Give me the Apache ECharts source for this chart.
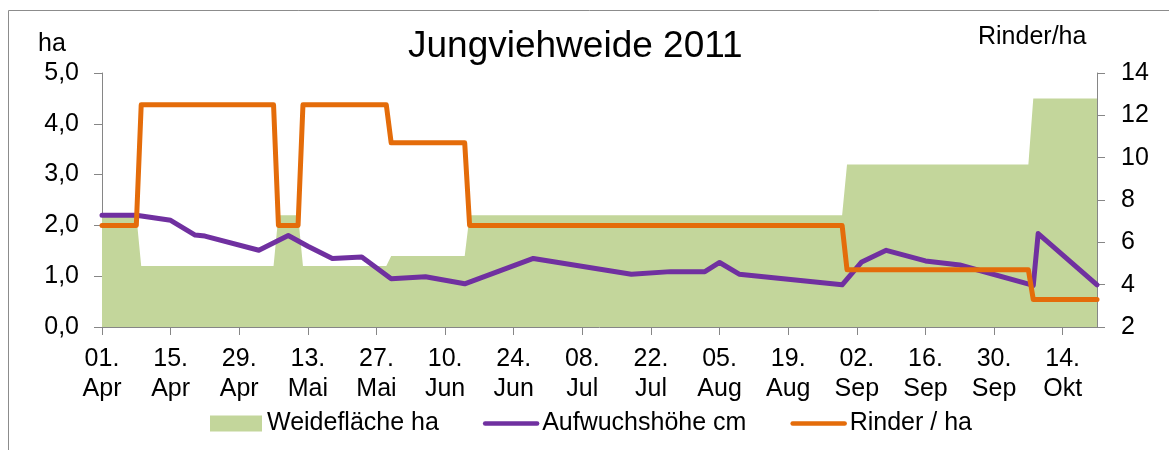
<!DOCTYPE html>
<html lang="de">
<head>
<meta charset="UTF-8">
<title>Jungviehweide 2011</title>
<style>
    html, body { margin: 0; padding: 0; background: #fff; }
    #main { width: 1169px; height: 450px; }
</style>
</head>
<body>
<div id="main"></div>
<script src="https://cdn.jsdelivr.net/npm/echarts@6/dist/echarts.min.js"></script>
<script>
    // x-Werte = Tage ab 01.04.2011
    var stufenTage = [0, 7, 8, 35, 36, 40, 41, 58, 59, 74, 75, 151, 152, 189, 190, 203];
    var weideflaeche = [2.2, 2.2, 1.2, 1.2, 2.2, 2.2, 1.2, 1.2, 1.4, 1.4, 2.2, 2.2, 3.2, 3.2, 4.5, 4.5];
    var rinderProHa = [6.8, 6.8, 12.5, 12.5, 6.8, 6.8, 12.5, 12.5, 10.7, 10.7, 6.8, 6.8, 4.7, 4.7, 3.3, 3.3];

    var aufwuchsTage = [0, 7, 14, 19, 21, 32, 38, 42, 47, 53, 59, 66, 74, 88, 108, 116, 123, 126, 130, 151, 155, 160, 168, 175, 190, 191, 203];
    var aufwuchshoehe = [2.2, 2.2, 2.1, 1.81, 1.79, 1.51, 1.8, 1.59, 1.35, 1.38, 0.95, 0.99, 0.85, 1.35, 1.04, 1.09, 1.09, 1.27, 1.04, 0.83, 1.28, 1.51, 1.3, 1.22, 0.82, 1.84, 0.83];

    var tickTage = [0, 14, 28, 42, 56, 70, 84, 98, 112, 126, 140, 154, 168, 182, 196];
    var tickLabels = ['01.\nApr', '15.\nApr', '29.\nApr', '13.\nMai', '27.\nMai', '10.\nJun', '24.\nJun',
        '08.\nJul', '22.\nJul', '05.\nAug', '19.\nAug', '02.\nSep', '16.\nSep', '30.\nSep', '14.\nOkt'];

    var font = '"Liberation Sans", Arial, sans-serif';
    var achsenFarbe = '#868686';

    function paare(tage, werte) {
        return tage.map(function (t, i) { return [t, werte[i]]; });
    }

    var myChart = echarts.init(document.getElementById('main'));

    var option = {
        animation: false,
        textStyle: { fontFamily: font },
        title: {
            text: 'Jungviehweide 2011',
            left: 408,
            top: 28,
            padding: 0,
            textStyle: { fontFamily: font, fontSize: 37, fontWeight: 'normal', color: '#000' }
        },
        graphic: [
            {
                type: 'rect', silent: true, z: -10,
                shape: { x: 8.5, y: 10.5, width: 1300, height: 600 },
                style: { fill: 'none', stroke: '#8c8c8c', lineWidth: 1 }
            },
            {
                type: 'text', x: 38, y: 32,
                style: { text: 'ha', font: '25px ' + font, fill: '#000' }
            },
            {
                type: 'text', x: 978, y: 25,
                style: { text: 'Rinder/ha', font: '25px ' + font, fill: '#000' }
            }
        ],
        legend: {
            left: 205,
            top: 406,
            itemWidth: 52,
            itemHeight: 16,
            itemGap: 44,
            lineStyle: { width: 4.5 },
            textStyle: { fontFamily: font, fontSize: 25, color: '#000' },
            data: [
                { name: 'Weidefläche ha', icon: 'rect', itemStyle: { borderWidth: 0 } },
                { name: 'Aufwuchshöhe cm', itemStyle: { opacity: 0 } },
                { name: 'Rinder / ha', itemStyle: { opacity: 0 } }
            ]
        },
        grid: { left: 102, right: 72, top: 73, bottom: 123 },
        xAxis: {
            type: 'value',
            min: 0,
            max: 203,
            interval: 14,
            splitLine: { show: false },
            axisLine: { lineStyle: { color: achsenFarbe } },
            axisTick: { length: 8, customValues: tickTage, lineStyle: { color: achsenFarbe } },
            axisLabel: {
                customValues: tickTage,
                formatter: function (v) { return tickLabels[tickTage.indexOf(v)]; },
                fontFamily: font,
                fontSize: 25,
                lineHeight: 30,
                color: '#000',
                margin: 17
            }
        },
        yAxis: [
            {
                type: 'value',
                position: 'left',
                min: 0,
                max: 5,
                interval: 1,
                splitLine: { show: false },
                axisLine: { show: true, lineStyle: { color: achsenFarbe } },
                axisTick: { show: true, length: 8, lineStyle: { color: achsenFarbe } },
                axisLabel: {
                    formatter: function (v) { return v.toFixed(1).replace('.', ','); },
                    fontFamily: font, fontSize: 25, color: '#000', margin: 23
                }
            },
            {
                type: 'value',
                position: 'right',
                min: 2,
                max: 14,
                interval: 2,
                splitLine: { show: false },
                axisLine: { show: true, lineStyle: { color: achsenFarbe } },
                axisTick: { show: true, length: 8, lineStyle: { color: achsenFarbe } },
                axisLabel: { fontFamily: font, fontSize: 25, color: '#000', margin: 24 }
            }
        ],
        series: [
            {
                name: 'Weidefläche ha',
                type: 'line',
                data: paare(stufenTage, weideflaeche),
                symbol: 'none',
                lineStyle: { width: 0, opacity: 0 },
                itemStyle: { color: '#c3d69b' },
                areaStyle: { color: '#c3d69b', opacity: 1 },
                z: 1
            },
            {
                name: 'Aufwuchshöhe cm',
                type: 'line',
                data: paare(aufwuchsTage, aufwuchshoehe),
                symbol: 'none',
                itemStyle: { color: '#7030a0' },
                lineStyle: { color: '#7030a0', width: 5, join: 'round', cap: 'round' },
                z: 2
            },
            {
                name: 'Rinder / ha',
                type: 'line',
                yAxisIndex: 1,
                data: paare(stufenTage, rinderProHa),
                symbol: 'none',
                itemStyle: { color: '#e46c0a' },
                lineStyle: { color: '#e46c0a', width: 5, join: 'round', cap: 'round' },
                z: 3
            }
        ]
    };

    myChart.setOption(option);
</script>
</body>
</html>
